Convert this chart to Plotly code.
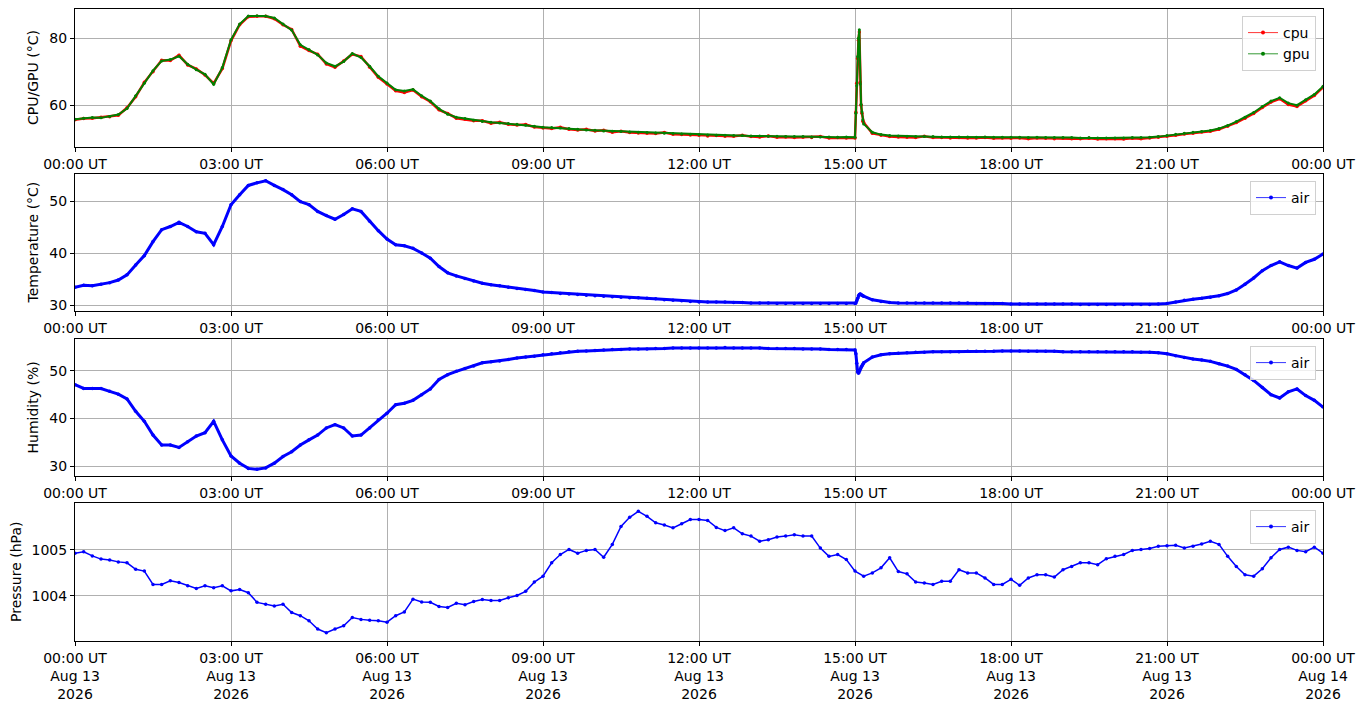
'''
 Sensor log for one day: CPU/GPU temperature, air temperature, humidity and pressure
'''

import pandas as pd
import plotly.graph_objects as go


# 10 minute readings, 00:00 .. 24:00 (one row per hour)
gpu_temp = [
    55.8, 56.1, 56.3, 56.2, 56.6, 57.2,
    59.0, 62.8, 66.5, 70.3, 73.2, 73.6,
    74.6, 72.2, 70.6, 69.2, 66.2, 71.2,
    79.5, 84.2, 86.6, 86.7, 86.6, 86.0,
    84.2, 82.4, 78.0, 76.6, 75.0, 72.6,
    71.6, 73.0, 75.4, 74.2, 71.6, 68.6,
    66.6, 64.6, 64.2, 64.7, 62.8, 61.2,
    58.9, 57.3, 56.4, 56.0, 55.5, 55.1,
    54.9, 54.7, 54.5, 54.3, 54.0, 53.7,
    53.4, 53.3, 53.2, 53.0, 52.8, 52.6,
    52.5, 52.3, 52.2, 52.1, 52.0, 51.9,
    51.8, 51.7, 51.6, 51.5, 51.4, 51.3,
    51.2, 51.1, 51.0, 51.0, 50.9, 50.9,
    50.8, 50.8, 50.7, 50.7, 50.6, 50.6,
    50.6, 50.5, 50.5, 50.5, 50.4, 50.5,
    50.4, 54.4, 51.9, 51.2, 50.9, 50.8,
    50.7, 50.6, 50.6, 50.6, 50.5, 50.5,
    50.5, 50.5, 50.4, 50.5, 50.4, 50.4,
    50.4, 50.4, 50.3, 50.4, 50.3, 50.3,
    50.3, 50.3, 50.2, 50.3, 50.2, 50.2,
    50.2, 50.2, 50.3, 50.3, 50.4, 50.6,
    50.9, 51.3, 51.6, 51.9, 52.1, 52.4,
    53.0, 53.9, 55.1, 56.4, 57.8, 59.6,
    61.2, 62.2, 60.6, 60.0, 61.6, 63.2,
    65.6,
]

cpu_temp = [
    55.6, 56.0, 56.1, 56.4, 56.5, 57.0,
    59.2, 62.5, 66.8, 70.0, 73.4, 73.3,
    74.9, 72.0, 70.8, 69.0, 66.5, 70.9,
    79.2, 84.0, 86.4, 86.5, 86.5, 85.8,
    84.0, 82.6, 77.6, 76.3, 75.2, 72.3,
    71.3, 73.2, 75.2, 74.5, 71.3, 68.3,
    66.3, 64.3, 63.8, 64.5, 62.5, 61.0,
    58.6, 57.5, 56.1, 55.8, 55.3, 55.3,
    54.6, 54.9, 54.3, 54.1, 54.2, 53.5,
    53.2, 53.0, 53.4, 52.8, 52.6, 52.8,
    52.3, 52.5, 51.9, 52.2, 51.8, 51.7,
    51.6, 51.5, 51.8, 51.3, 51.2, 51.1,
    51.0, 50.8, 50.9, 50.7, 50.7, 51.0,
    50.6, 50.5, 50.8, 50.4, 50.5, 50.3,
    50.4, 50.3, 50.6, 50.2, 50.3, 50.2,
    50.2, 54.8, 51.6, 51.0, 50.6, 50.5,
    50.4, 50.3, 50.7, 50.3, 50.3, 50.2,
    50.3, 50.2, 50.2, 50.3, 50.1, 50.2,
    50.1, 50.2, 50.0, 50.2, 50.1, 50.0,
    50.1, 50.0, 50.0, 50.1, 49.9, 50.0,
    50.0, 49.9, 50.1, 50.0, 50.2, 50.4,
    50.7, 51.0, 51.4, 51.6, 52.0, 52.2,
    52.8, 53.7, 54.8, 56.1, 57.5, 59.3,
    60.9, 61.9, 60.2, 59.6, 61.3, 62.9,
    65.3,
]

air_temp = [
    33.4, 33.8, 33.7, 34.0, 34.3, 34.8,
    35.8, 37.7, 39.5, 42.2, 44.5, 45.1,
    45.9, 45.1, 44.1, 43.8, 41.6, 45.1,
    49.3, 51.2, 53.0, 53.5, 53.9, 53.0,
    52.2, 51.2, 49.9, 49.3, 48.0, 47.2,
    46.5, 47.4, 48.5, 48.0, 46.1, 44.3,
    42.7, 41.6, 41.4, 40.9, 40.0, 39.0,
    37.4, 36.2, 35.6, 35.1, 34.6, 34.2,
    33.9, 33.7, 33.4, 33.2, 33.0, 32.8,
    32.5, 32.4, 32.2, 32.1, 32.0, 31.9,
    31.8, 31.7, 31.6, 31.5, 31.4, 31.4,
    31.3, 31.2, 31.0, 30.9, 30.8, 30.7,
    30.6, 30.6, 30.6, 30.6, 30.5, 30.5,
    30.4, 30.4, 30.4, 30.3, 30.3, 30.3,
    30.3, 30.3, 30.3, 30.3, 30.3, 30.3,
    30.3, 31.7, 31.0, 30.7, 30.5, 30.4,
    30.4, 30.4, 30.4, 30.4, 30.4, 30.4,
    30.4, 30.4, 30.3, 30.3, 30.3, 30.3,
    30.2, 30.2, 30.2, 30.2, 30.2, 30.2,
    30.2, 30.2, 30.1, 30.1, 30.1, 30.1,
    30.1, 30.1, 30.1, 30.1, 30.1, 30.2,
    30.3, 30.6, 30.9, 31.1, 31.3, 31.5,
    31.8, 32.2, 32.9, 34.0, 35.2, 36.6,
    37.6, 38.3, 37.6, 37.1, 38.2, 38.8,
    39.8,
]

humidity = [
    47.1, 46.3, 46.3, 46.3, 45.7, 45.1,
    44.1, 41.5, 39.4, 36.5, 34.4, 34.4,
    33.9, 35.1, 36.3, 37.0, 39.4, 35.5,
    32.1, 30.6, 29.5, 29.3, 29.6, 30.6,
    32.0, 33.0, 34.4, 35.5, 36.5, 38.0,
    38.7, 38.0, 36.3, 36.5, 38.0, 39.7,
    41.1, 42.9, 43.2, 43.8, 45.0, 46.2,
    48.2, 49.2, 49.9, 50.5, 51.0, 51.7,
    51.9, 52.1, 52.4, 52.7, 52.9, 53.1,
    53.4, 53.6, 53.8, 54.0, 54.1, 54.2,
    54.3, 54.4, 54.5, 54.5, 54.6, 54.6,
    54.6, 54.7, 54.7, 54.8, 54.8, 54.8,
    54.8, 54.8, 54.8, 54.9, 54.8, 54.8,
    54.8, 54.8, 54.7, 54.7, 54.7, 54.7,
    54.6, 54.6, 54.6, 54.5, 54.5, 54.5,
    54.4, 51.7, 52.9, 53.4, 53.6, 53.7,
    53.8, 53.9, 53.9, 54.0, 54.0, 54.0,
    54.0, 54.1, 54.1, 54.1, 54.1, 54.2,
    54.2, 54.2, 54.1, 54.1, 54.1, 54.1,
    54.0, 54.0, 54.0, 54.0, 54.0, 54.0,
    54.0, 54.0, 54.0, 53.9, 53.9, 53.8,
    53.6, 53.2, 52.8, 52.5, 52.3, 52.0,
    51.5, 51.0, 50.3, 49.2, 48.0, 46.5,
    45.0, 44.3, 45.6, 46.2, 44.8, 43.8,
    42.4,
]

pressure = [
    1004.93, 1004.96, 1004.87, 1004.80, 1004.78, 1004.74,
    1004.72, 1004.58, 1004.54, 1004.25, 1004.25, 1004.33,
    1004.29, 1004.22, 1004.16, 1004.22, 1004.18, 1004.22,
    1004.11, 1004.14, 1004.07, 1003.86, 1003.82, 1003.78,
    1003.82, 1003.64, 1003.57, 1003.46, 1003.28, 1003.20,
    1003.28, 1003.35, 1003.53, 1003.49, 1003.47, 1003.46,
    1003.43, 1003.57, 1003.65, 1003.93, 1003.87, 1003.86,
    1003.77, 1003.75, 1003.84, 1003.81, 1003.88, 1003.92,
    1003.90, 1003.90, 1003.96, 1004.01, 1004.10, 1004.30,
    1004.43, 1004.72, 1004.90, 1005.01, 1004.93, 1004.99,
    1005.01, 1004.84, 1005.12, 1005.51, 1005.71, 1005.84,
    1005.73, 1005.59, 1005.54, 1005.48, 1005.57, 1005.66,
    1005.66, 1005.64, 1005.49, 1005.42, 1005.48, 1005.35,
    1005.30, 1005.19, 1005.22, 1005.28, 1005.30, 1005.33,
    1005.30, 1005.30, 1005.04, 1004.86, 1004.90, 1004.79,
    1004.54, 1004.43, 1004.50, 1004.61, 1004.83, 1004.53,
    1004.48, 1004.30, 1004.28, 1004.25, 1004.32, 1004.32,
    1004.57, 1004.50, 1004.50, 1004.39, 1004.25, 1004.25,
    1004.36, 1004.23, 1004.39, 1004.46, 1004.46, 1004.41,
    1004.57, 1004.64, 1004.72, 1004.72, 1004.68, 1004.81,
    1004.86, 1004.90, 1004.99, 1005.01, 1005.03, 1005.08,
    1005.09, 1005.10, 1005.04, 1005.08, 1005.13, 1005.19,
    1005.12, 1004.86, 1004.64, 1004.46, 1004.43, 1004.59,
    1004.83, 1005.01, 1005.06, 1004.99, 1004.96, 1005.06,
    1004.93,
]

# extra 1-minute readings during the 15:00 event
spike_minutes = [1, 2, 3, 4, 5, 6, 7, 8, 9]
gpu_spike = [57.6, 65.8, 74.5, 80.0, 82.5, 66.3, 60.3, 58.0, 55.6]
cpu_spike = [57.9, 66.5, 73.9, 79.4, 81.8, 66.8, 60.0, 57.6, 55.2]
air_temp_spike = [30.4, 30.8, 31.3, 31.8, 32.0, 32.1, 32.0, 31.9, 31.8]
humidity_spike = [53.6, 51.6, 49.8, 49.5, 49.9, 50.4, 50.8, 51.1, 51.4]

tick_hours = [0, 3, 6, 9, 12, 15, 18, 21, 24]
day_start = pd.Timestamp('2026-08-13 00:00')

base_times = pd.date_range(day_start, periods=len(gpu_temp), freq='10min')
spike_times = pd.Timestamp('2026-08-13 15:00') + pd.to_timedelta(spike_minutes, unit='min')


def with_spike(base, spike):
    s = pd.concat([pd.Series(base, index=base_times), pd.Series(spike, index=spike_times)])
    return s.sort_index()


s_cpu = with_spike(cpu_temp, cpu_spike)
s_gpu = with_spike(gpu_temp, gpu_spike)
s_air = with_spike(air_temp, air_temp_spike)
s_hum = with_spike(humidity, humidity_spike)
s_pre = pd.Series(pressure, index=base_times)

tick_vals = [day_start + pd.Timedelta(hours=h) for h in tick_hours]
tick_text = [t.strftime('%H:%M') + ' UT' for t in tick_vals]
tick_text_bottom = [t.strftime('%H:%M UT<br>%b %d<br>%Y') for t in tick_vals]

# pixel layout of the screenshot; the page body adds an 8px offset
OFF = 8
W, H = 1364 - OFF, 707 - OFF
left, right, top_px, bottom_px = 75 - OFF, 1323 - OFF, 9 - OFF, 641 - OFF
pw, ph = right - left, bottom_px - top_px
# panel top / bottom in screenshot pixels
panels = [(9, 147), (174, 311), (339, 476), (503, 641)]


def py(p):
    # screenshot row -> paper y inside the plot area
    return (bottom_px - (p - OFF)) / ph


def px(p):
    return ((p - OFF) - left) / pw


font = dict(family='DejaVu Sans', size=14, color='black')

fig = go.Figure()


def add_series(s, color, n, width=2.5, msize=3.5):
    fig.add_trace(go.Scatter(x=s.index, y=s.values, mode='lines+markers',
                             line=dict(color=color, width=width),
                             marker=dict(color=color, size=msize),
                             showlegend=False,
                             xaxis='x' if n == 1 else 'x%d' % n,
                             yaxis='y' if n == 1 else 'y%d' % n))


def add_legend_item(name, color, n):
    fig.add_trace(go.Scatter(x=[None], y=[None], mode='lines+markers', name=name,
                             line=dict(color=color, width=0.8),
                             marker=dict(color=color, size=4),
                             legend='legend' if n == 1 else 'legend%d' % n,
                             xaxis='x' if n == 1 else 'x%d' % n,
                             yaxis='y' if n == 1 else 'y%d' % n))


add_series(s_cpu, 'red', 1)
add_series(s_gpu, 'green', 1, width=2.0, msize=3)
add_legend_item('cpu', 'red', 1)
add_legend_item('gpu', 'green', 1)

add_series(s_air, 'blue', 2, width=3)
add_legend_item('air', 'blue', 2)

add_series(s_hum, 'blue', 3, width=3)
add_legend_item('air', 'blue', 3)

add_series(s_pre, 'blue', 4, width=1.5, msize=3.5)
add_legend_item('air', 'blue', 4)

y_ranges = [[47.5, 88.7], [28.85, 55.2], [27.9, 56.7], [1003.02, 1006.02]]
y_ticks = [[60, 80], [30, 40, 50], [30, 40, 50], [1004, 1005]]
y_titles = ['CPU/GPU (°C)', 'Temperature (°C)', 'Humidity (%)', 'Pressure (hPa)']
y_title_x = [33, 33, 33, 16]

axis_style = dict(showline=True, mirror=True, linecolor='black', linewidth=1,
                  ticks='outside', ticklen=4, tickcolor='black',
                  showgrid=True, gridcolor='#b0b0b0', gridwidth=0.8,
                  zeroline=False, tickfont=font, automargin=False)

layout = dict(width=W, height=H,
              margin=dict(l=left, r=W - right, t=top_px, b=H - bottom_px),
              plot_bgcolor='white', paper_bgcolor='white', font=font)

for i, (top, bottom) in enumerate(panels):
    n = i + 1
    xk = 'xaxis' if n == 1 else 'xaxis%d' % n
    yk = 'yaxis' if n == 1 else 'yaxis%d' % n
    layout[xk] = dict(axis_style, domain=[0, 1],
                      anchor='y' if n == 1 else 'y%d' % n,
                      range=[tick_vals[0], tick_vals[-1]],
                      tickvals=tick_vals,
                      ticktext=tick_text_bottom if n == 4 else tick_text)
    layout[yk] = dict(axis_style, domain=[py(bottom), py(top)],
                      anchor='x' if n == 1 else 'x%d' % n,
                      range=y_ranges[i], tickvals=y_ticks[i],
                      ticktext=[str(v) for v in y_ticks[i]])
    lk = 'legend' if n == 1 else 'legend%d' % n
    layout[lk] = dict(x=px(1316), y=py(top + 7), xanchor='right', yanchor='top',
                      bgcolor='rgba(255,255,255,0.8)', bordercolor='#d0d0d0',
                      borderwidth=1, font=font, tracegroupgap=0)

fig.update_layout(**layout)

for i, (top, bottom) in enumerate(panels):
    fig.add_annotation(text=y_titles[i], xref='paper', yref='paper',
                       x=px(y_title_x[i]), y=py((top + bottom) / 2), textangle=-90,
                       showarrow=False, font=font, xanchor='center', yanchor='middle')

fig.write_html('out.html')
